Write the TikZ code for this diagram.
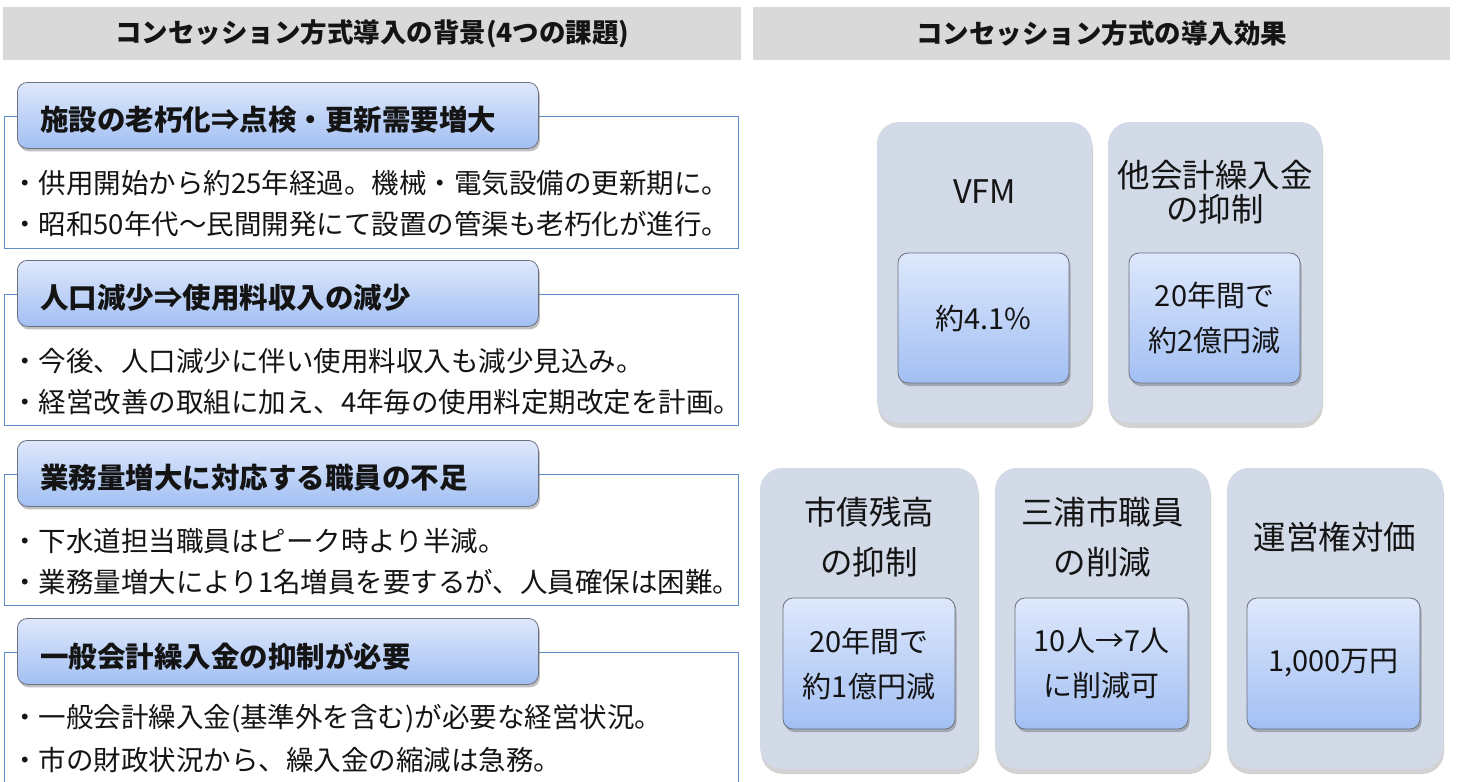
\documentclass[tikz,border=0pt]{standalone}
\usepackage{fontspec}
\setmainfont{Noto Sans CJK JP}
\usetikzlibrary{shadows}
\definecolor{hdrgray}{HTML}{D9D9D9}
\definecolor{cardfill}{HTML}{D2D9E7}
\definecolor{gradtop}{HTML}{DEE8FC}
\definecolor{gradbot}{HTML}{A2BFF3}
\definecolor{tabline}{HTML}{6A707C}
\definecolor{boxblue}{HTML}{5E8CC8}
\definecolor{txt}{HTML}{141414}
\tikzset{
  hdrbar/.style={fill=hdrgray, draw=none, inner sep=0pt},
  hdrtext/.style={font=\fontsize{26.5}{30}\selectfont\bfseries, text=txt, inner sep=0pt},
  boxline/.style={draw=boxblue, line width=0.9pt},
  tabbox/.style={rounded corners=10pt, draw=tabline, line width=0.8pt, top color=gradtop, bottom color=gradbot,
    drop shadow={shadow xshift=1.5pt, shadow yshift=-3pt, opacity=0.35, fill=black!70}, inner sep=0pt},
  tabtext/.style={font=\fontsize{28.5}{32}\selectfont\bfseries, text=txt, inner sep=0pt, anchor=west},
  bodytext/.style={font=\fontsize{27.5}{41}\selectfont, text=txt, inner sep=0pt, anchor=west},
  card/.style={rounded corners=22pt, fill=cardfill, draw=none, inner sep=0pt,
    drop shadow={shadow xshift=1pt, shadow yshift=-5pt, opacity=0.22, fill=black!80}},
  innerbox/.style={rounded corners=10pt, draw=tabline, line width=0.8pt, top color=gradtop, bottom color=gradbot, inner sep=0pt,
    drop shadow={shadow xshift=1.5pt, shadow yshift=-3pt, opacity=0.35, fill=black!70}},
  cardtitle/.style={font=\fontsize{32.5}{34}\selectfont, text=txt, align=center, inner sep=0pt},
  cardtitlewide/.style={font=\fontsize{32.5}{50}\selectfont, text=txt, align=center, inner sep=0pt},
  innertext/.style={font=\fontsize{29}{45}\selectfont, text=txt, align=center, inner sep=0pt},
}
\newcommand\issuesec[6]{%
  \draw[boxline] (738,{#1+34}) -- (4,{#1+34}) -- (4,#6) -- (738,#6) -- cycle;
  \node[tabbox, minimum width=521pt, minimum height=66pt, anchor=north west] (#2tab) at (17,#1) {};
  \node[tabtext] (#2title) at (40,{#1+38}) {#3};
  \node[bodytext] (#2a) at (11,{#1+101}) {#4};
  \node[bodytext] (#2b) at (11,{#1+142}) {#5};
}
\begin{document}
\begin{tikzpicture}[x=1pt,y=-1pt]
\path[use as bounding box, clip] (0,0) rectangle (1457,782);
\fill[white] (0,0) rectangle (1457,782);

% headers
\node[hdrbar, minimum width=738pt, minimum height=53pt, anchor=north west] (lhdr) at (3,7) {};
\node[hdrtext] (lhdrtext) at (lhdr.center) {コンセッション方式導入の背景(4つの課題)};
\node[hdrbar, minimum width=697pt, minimum height=53pt, anchor=north west] (rhdr) at (753,7) {};
\node[hdrtext] (rhdrtext) at (rhdr.center) {コンセッション方式の導入効果};

% left: four issues
\issuesec{82}{s1}{施設の老朽化⇒点検・更新需要増大}{・供用開始から約25年経過。機械・電気設備の更新期に。}{・昭和50年代～民間開発にて設置の管渠も老朽化が進行。}{248}
\issuesec{260}{s2}{人口減少⇒使用料収入の減少}{・今後、人口減少に伴い使用料収入も減少見込み。}{・経営改善の取組に加え、4年毎の使用料定期改定を計画。}{425}
\issuesec{440}{s3}{業務量増大に対応する職員の不足}{・下水道担当職員はピーク時より半減。}{・業務量増大により1名増員を要するが、人員確保は困難。}{605}
\issuesec{618}{s4}{一般会計繰入金の抑制が必要}{・一般会計繰入金(基準外を含む)が必要な経営状況。}{・市の財政状況から、繰入金の縮減は急務。}{800}

% right: effects, top row
\node[card, minimum width=215pt, minimum height=301pt] (c1) at (984.5,272.5) {};
\node[card, minimum width=214pt, minimum height=301pt] (c2) at (1215,272.5) {};
\node[cardtitle] (c1t) at (984.5,192) {VFM};
\node[cardtitle] (c2t) at (1215,192) {他会計繰入金\\の抑制};
\node[innerbox, minimum width=171pt, minimum height=130pt] (i1) at (983.5,318) {};
\node[innerbox, minimum width=171pt, minimum height=130pt] (i2) at (1214.5,318) {};
\node[innertext] (i1t) at (i1.center) {約4.1\%};
\node[innertext] (i2t) at (i2.center) {20年間で\\約2億円減};

% bottom row
\node[card, minimum width=218pt, minimum height=301pt] (c3) at (869,618.5) {};
\node[card, minimum width=215pt, minimum height=301pt] (c4) at (1102.5,618.5) {};
\node[card, minimum width=216pt, minimum height=301pt] (c5) at (1335,618.5) {};
\node[cardtitlewide] (c3t) at (869,537) {市債残高\\の抑制};
\node[cardtitlewide] (c4t) at (1102.5,537) {三浦市職員\\の削減};
\node[cardtitle] (c5t) at (1335,537) {運営権対価};
\node[innerbox, minimum width=172pt, minimum height=131pt] (i3) at (869,663.5) {};
\node[innerbox, minimum width=173pt, minimum height=131pt] (i4) at (1101.5,663.5) {};
\node[innerbox, minimum width=173pt, minimum height=131pt] (i5) at (1333.5,663.5) {};
\node[innertext] (i3t) at (i3.center) {20年間で\\約1億円減};
\node[innertext] (i4t) at (i4.center) {10人→7人\\に削減可};
\node[innertext] (i5t) at (i5.center) {1,000万円};
\end{tikzpicture}
\end{document}
